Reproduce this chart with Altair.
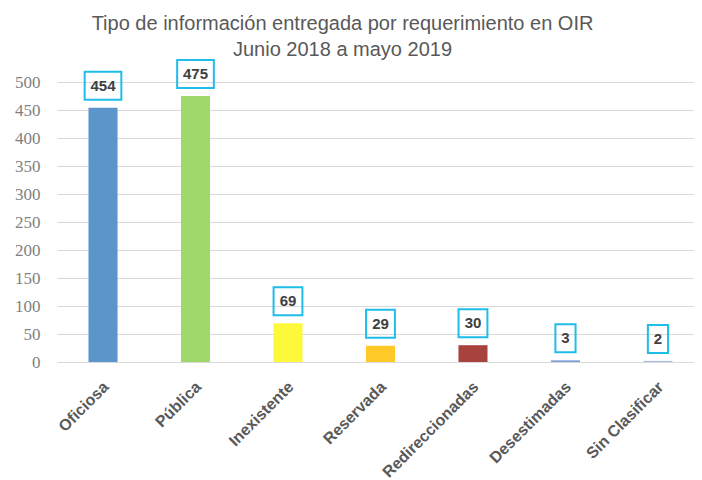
import altair as alt
import pandas as pd

categories = ["Oficiosa", "Pública", "Inexistente", "Reservada", "Redireccionadas", "Desestimadas", "Sin Clasificar"]
values = [454, 475, 69, 29, 30, 3, 2]
palette = ["#5B95C9", "#9FD86B", "#FDF93A", "#FFCA28", "#A8423F", "#7F9FD4", "#A9C0E4"]
y_ticks = [0, 50, 100, 150, 200, 250, 300, 350, 400, 450, 500]

df = pd.DataFrame({"cat": categories, "val": values})
df["digits"] = df["val"].astype(str).str.len()

box_paths = {
    1: "M-0.72,-1L0.72,-1L0.72,1L-0.72,1Z",
    2: "M-1.03,-1L1.03,-1L1.03,1L-1.03,1Z",
    3: "M-1.31,-1L1.31,-1L1.31,1L-1.31,1Z",
}

x = alt.X("cat:N", sort=categories, title=None,
          scale=alt.Scale(paddingInner=0.686, paddingOuter=0.2865, align=0.594),
          axis=alt.Axis(labelAngle=-45, labelFont="Liberation Sans Narrow, Liberation Sans, sans-serif",
                        labelFontSize=16, labelFontWeight="bold", labelColor="#595959",
                        ticks=False, domainColor="#D9D9D9", labelPadding=22, labelOffset=3,
                        labelAlign="right", labelBaseline="middle"))
y = alt.Y("val:Q", title=None,
          scale=alt.Scale(domain=[0, 500], nice=False),
          axis=alt.Axis(values=y_ticks, labelFont="Liberation Serif, serif", labelFontSize=17,
                        labelColor="#7F7F7F", ticks=False, domain=False, gridColor="#D9D9D9",
                        labelPadding=17))

base = alt.Chart(df)

bars = base.mark_bar().encode(
    x=x, y=y,
    color=alt.Color("cat:N", sort=categories, legend=None,
                    scale=alt.Scale(domain=categories, range=palette)),
)

boxes = base.mark_point(filled=False, stroke="#1FBDEA", strokeWidth=2, size=784, yOffset=-22, opacity=1).encode(
    x=x, y=y,
    shape=alt.Shape("digits:O", legend=None,
                    scale=alt.Scale(domain=[1, 2, 3], range=[box_paths[1], box_paths[2], box_paths[3]])),
)

texts = base.mark_text(dy=-22, font="Liberation Sans Narrow, Liberation Sans, sans-serif",
                       fontSize=15, fontWeight="bold", color="#404040", baseline="middle").encode(
    x=x, y=y, text="val:Q",
)

chart = alt.layer(bars, boxes, texts).properties(
    width=637, height=280,
    autosize=alt.AutoSizeParams(type="none"),
    padding={"left": 49, "top": 74, "right": 0, "bottom": 118},
    title=alt.TitleParams(
        text=["Tipo de información entregada por requerimiento en OIR", "Junio 2018 a mayo 2019"],
        font="Liberation Sans Narrow, Liberation Sans, sans-serif", fontSize=20, fontWeight="normal",
        color="#595959", anchor="middle", frame="group", dx=-33, offset=-4, lineHeight=26,
    ),
).configure_view(stroke=None)

chart.save("out.html", embed_options={"renderer": "svg", "actions": False})
